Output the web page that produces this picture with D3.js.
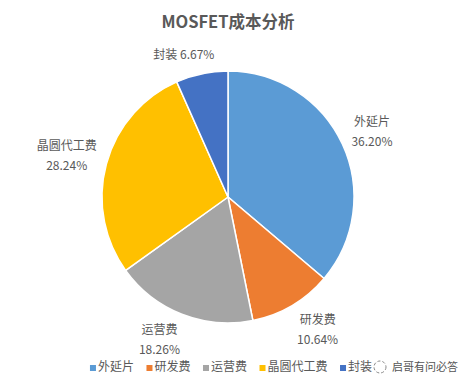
<!DOCTYPE html>
<html>
<head>
<meta charset="utf-8">
<script src="https://cdn.jsdelivr.net/npm/d3@7/dist/d3.min.js"></script>
<style>
  body { margin: 0; background: #fff; }
  text { font-family: "Microsoft YaHei", "Noto Sans CJK SC", sans-serif; }
</style>
</head>
<body>
<div id="chart"></div>
<script>
// cost breakdown, percent
const categories = ["外延片", "研发费", "运营费", "晶圆代工费", "封装"];
const shares = [36.20, 10.64, 18.26, 28.24, 6.67];
const colors = ["#5B9BD5", "#ED7D31", "#A5A5A5", "#FFC000", "#4472C4"];
const chartTitle = "MOSFET成本分析";
const watermark = "启哥有问必答";

const width = 472, height = 387,
	cx = 228, cy = 197,
	radius = 126,
	labelGap = 10,
	textColor = "#595959";

const data = categories.map((c, i) => ({ name: c, value: shares[i], color: colors[i] }));

const svg = d3.select("#chart")
	.append("svg")
	.attr("width", width)
	.attr("height", height);

svg.append("text")
	.attr("x", cx)
	.attr("y", 28)
	.attr("text-anchor", "middle")
	.style("font-size", "16.5px")
	.style("font-weight", "bold")
	.style("fill", textColor)
	.text(chartTitle);

const pie = d3.pie().sort(null).value(d => d.value);
const arc = d3.arc().innerRadius(0).outerRadius(radius);
const anchorArc = d3.arc().innerRadius(radius + labelGap).outerRadius(radius + labelGap);

const g = svg.append("g")
	.attr("transform", `translate(${cx},${cy})`);

const arcs = pie(data);

g.selectAll("path")
	.data(arcs)
	.enter()
		.append("path")
		.attr("d", arc)
		.style("fill", d => d.data.color)
		.style("stroke", "#fff")
		.style("stroke-width", 1.5);

// data labels, placed outside the slice end
const lineH = 20;
arcs.forEach((d, i) => {
	const mid = (d.startAngle + d.endAngle) / 2;
	const s = Math.sin(mid), c = -Math.cos(mid);
	const p = anchorArc.centroid(d);
	const pct = d.data.value.toFixed(2) + "%";
	const oneLine = i === categories.length - 1;

	const t = g.append("text")
		.attr("text-anchor", "middle")
		.style("font-size", "12px")
		.style("fill", textColor);

	if (oneLine) {
		t.append("tspan").text(d.data.name + " " + pct);
	} else {
		t.append("tspan").attr("x", 0).attr("dy", 0).text(d.data.name);
		t.append("tspan").attr("x", 0).attr("dy", lineH).text(pct);
	}
	const w = t.node().getBBox().width;
	const h = oneLine ? 17 : 17 + lineH;
	const k = Math.max(-1, Math.min(1, s * 2.5));
	const x = p[0] + (w / 2) * k;
	const yc = p[1] + (h / 2) * c;
	const yTop = yc - h / 2;
	t.attr("transform", `translate(${x},${yTop + 12})`);
	t.selectAll("tspan").attr("x", 0);
});

// legend
const legend = svg.append("g");
let lx = 0;
const items = legend.selectAll("g.item")
	.data(data)
	.enter()
		.append("g")
		.classed("item", true);

items.append("rect")
	.attr("width", 6)
	.attr("height", 6)
	.attr("y", -6)
	.style("fill", d => d.color);

items.append("text")
	.attr("x", 8)
	.style("font-size", "12px")
	.style("fill", textColor)
	.text(d => d.name);

items.each(function() {
	const item = d3.select(this);
	item.attr("transform", `translate(${lx},0)`);
	lx += 8 + item.select("text").node().getComputedTextLength() + 12.5;
});
lx -= 12.5;
legend.attr("transform", `translate(${cx - lx / 2 + 3},371)`);

// watermark
const wm = svg.append("g").attr("transform", "translate(380,367)");
wm.append("circle")
	.attr("r", 6)
	.style("fill", "none")
	.style("stroke", "#888")
	.style("stroke-width", 1)
	.style("stroke-dasharray", "3,2");
wm.append("text")
	.attr("x", 12)
	.attr("y", 4)
	.style("font-size", "11px")
	.style("fill", "#555")
	.text(watermark);
</script>
</body>
</html>
